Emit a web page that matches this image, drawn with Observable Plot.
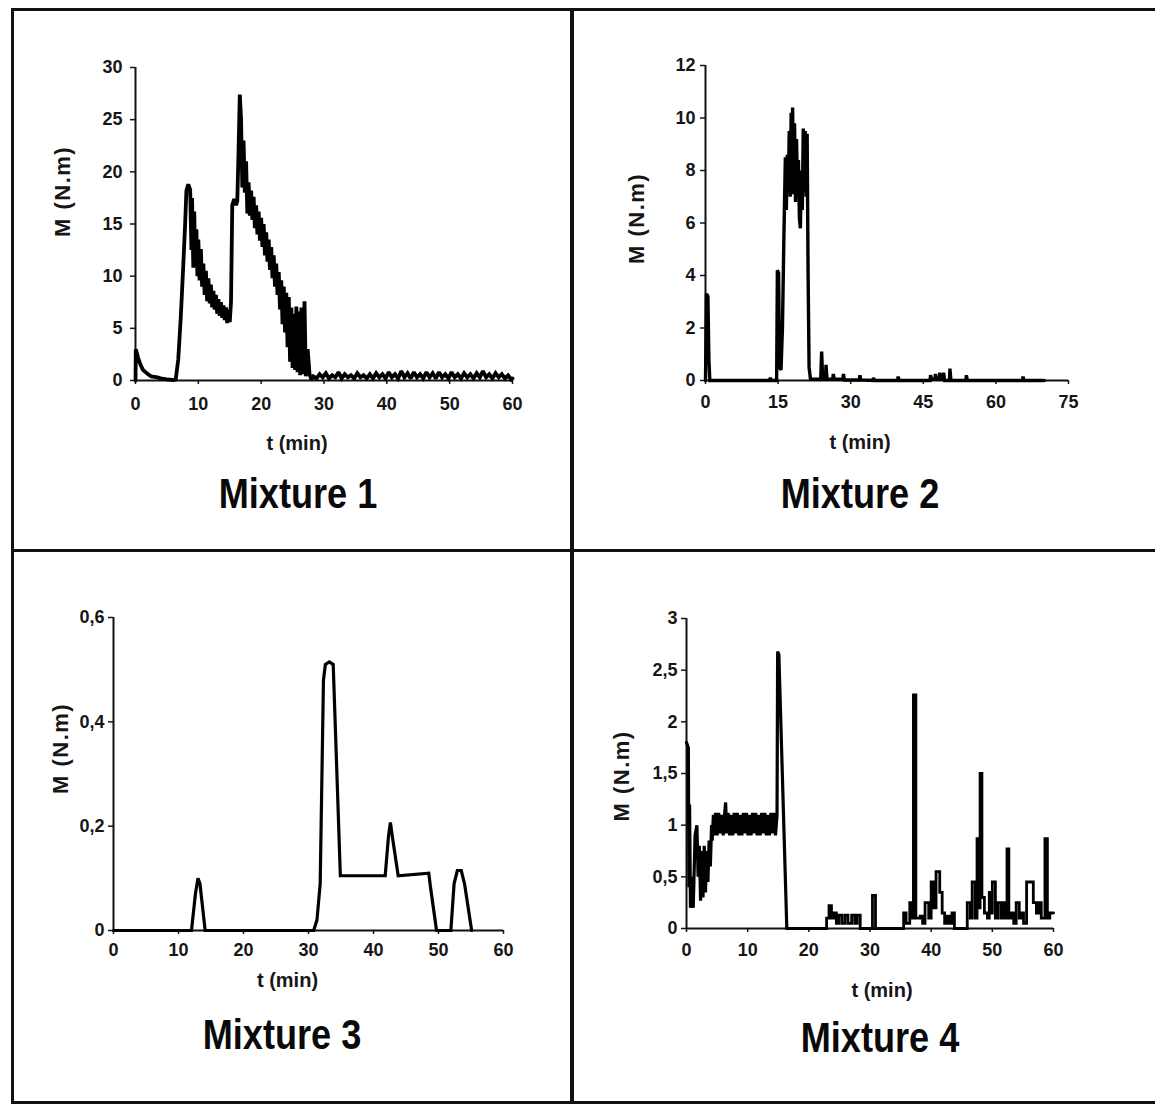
<!DOCTYPE html>
<html>
<head>
<meta charset="utf-8">
<script src="https://cdn.jsdelivr.net/npm/d3@7"></script>
<script src="https://cdn.jsdelivr.net/npm/@observablehq/plot@0.6"></script>
<style>
  html, body { margin: 0; padding: 0; background: #fff; }
  #page { position: relative; width: 1155px; height: 1104px; background: #fff; overflow: hidden; }
  .line { position: absolute; background: #111; }
  .chart { position: absolute; }
  .title { position: absolute; width: 400px; text-align: center; font-family: "Liberation Sans", Arial, sans-serif;
           font-weight: bold; font-size: 42px; line-height: 42px; color: #0a0a0a; transform: scaleX(0.86); transform-origin: center; }
</style>
</head>
<body>
<div id="page"></div>
<script>
// ---------- data (t in min, M in N.m) ----------
const titles = ["Mixture 1", "Mixture 2", "Mixture 3", "Mixture 4"];
const xLabel = "t (min)";
const yLabel = "M (N.m)";

const xTicks1 = [0, 10, 20, 30, 40, 50, 60];
const yTicks1 = [0, 5, 10, 15, 20, 25, 30];
const xTicks2 = [0, 15, 30, 45, 60, 75];
const yTicks2 = [0, 2, 4, 6, 8, 10, 12];
const xTicks3 = [0, 10, 20, 30, 40, 50, 60];
const yTicks3 = [0, 0.2, 0.4, 0.6];
const xTicks4 = [0, 10, 20, 30, 40, 50, 60];
const yTicks4 = [0, 0.5, 1, 1.5, 2, 2.5, 3];

const mixture1 = [
  [0,0],[0.05,3.0],[0.4,2.2],[0.8,1.5],[1.2,1.0],[1.6,0.8],[2,0.6],[2.5,0.4],[3,0.35],[3.5,0.3],[4,0.2],[5,0.1],[6,0.05],[6.4,0.1],
  [6.8,2],[7.2,6],[7.6,11],[7.9,15],[8.1,18.2],[8.4,18.8],[8.7,18.3],[8.9,12.5],[9.0,17.5],[9.2,10.8],[9.35,16.2],[9.5,11],
  [9.7,14.5],[9.85,10],[10,13.5],[10.2,9.6],[10.4,12.6],[10.6,9],[10.8,11.2],[11,8.2],[11.2,10.5],[11.4,7.6],[11.6,9.8],[11.8,7.4],
  [12,9.2],[12.2,7],[12.4,8.6],[12.6,6.8],[12.8,8.2],[13,6.4],[13.2,7.8],[13.4,6.2],[13.6,7.5],[13.8,6],[14,7.2],[14.2,5.8],
  [14.4,7],[14.6,5.5],[14.8,6.8],[15,5.6],[15.2,7.5],[15.4,16.8],[15.7,17.4],[16,16.8],[16.2,17.2],[16.4,22],[16.6,27.4],[16.8,25],
  [17,18.5],[17.2,23],[17.4,18],[17.6,21],[17.8,16],[18,19],[18.2,15.8],[18.4,18.2],[18.6,15.4],[18.8,17.6],[19,14.6],[19.2,16.8],
  [19.4,14],[19.6,16.2],[19.8,13.4],[20,15.6],[20.2,12.8],[20.4,15],[20.6,12],[20.8,14.2],[21,11.4],[21.2,13.5],[21.4,10.6],
  [21.6,12.8],[21.8,9.8],[22,12],[22.2,9],[22.4,11.2],[22.6,8.2],[22.8,10.4],[23,6.8],[23.2,9.6],[23.4,5.4],[23.6,9],[23.8,4.6],
  [24,8.4],[24.2,3.2],[24.4,8],[24.6,1.8],[24.8,7],[25,1.2],[25.2,6.4],[25.4,1],[25.6,7.1],[25.8,0.8],[26,6.6],[26.2,0.5],
  [26.4,7.0],[26.6,0.6],[26.9,7.6],[27.1,0.4],[27.4,3],[27.7,0.6],[28,0.1],[28.3,0.4],
  [28.8,0.2],[29.3,0.6],[29.8,0.3],[30.3,0.7],[30.8,0.2],[31.3,0.5],[31.8,0.3],[32.3,0.8],[32.8,0.2],[33.3,0.6],[33.8,0.3],
  [34.3,0.5],[34.8,0.2],[35.3,0.7],[35.8,0.3],[36.3,0.5],[36.8,0.2],[37.3,0.6],[37.8,0.2],[38.3,0.7],[38.8,0.3],[39.3,0.6],
  [39.8,0.2],[40.3,0.8],[40.8,0.3],[41.3,0.6],[41.8,0.2],[42.3,0.9],[42.8,0.3],[43.3,0.7],[43.8,0.2],[44.3,0.8],[44.8,0.3],
  [45.3,0.6],[45.8,0.2],[46.3,0.8],[46.8,0.3],[47.3,0.7],[47.8,0.2],[48.3,0.8],[48.8,0.3],[49.3,0.6],[49.8,0.2],[50.3,0.8],
  [50.8,0.3],[51.3,0.6],[51.8,0.2],[52.3,0.7],[52.8,0.3],[53.3,0.6],[53.8,0.2],[54.3,0.7],[54.8,0.3],[55.3,0.9],[55.8,0.3],
  [56.3,0.6],[56.8,0.2],[57.3,0.7],[57.8,0.3],[58.3,0.6],[58.8,0.2],[59.3,0.5],[59.8,0.1],[60,0.2]
];

const mixture2 = [
  [0,0],[0.2,3.3],[0.5,3.2],[0.7,0.8],[0.9,0],[13.2,0],[13.4,0.1],[13.6,0],[14.7,0],[14.85,4.2],[15.1,4.1],[15.3,0.5],[15.6,0.4],
  [15.9,2],[16.2,5.5],[16.5,8.5],[16.7,6.5],[16.9,8.6],[17.1,7.2],[17.3,9.5],[17.5,7],[17.7,10.2],[17.9,7.6],[18.0,10.4],
  [18.2,7.1],[18.4,9.8],[18.6,6.8],[18.8,9.2],[19.0,7.4],[19.2,8.4],[19.4,6.2],[19.6,5.8],[19.8,8],[20,6.5],[20.2,9.6],
  [20.4,7.2],[20.6,9.5],[20.8,7],[21,9.4],[21.2,4],[21.4,0.5],[21.7,0.05],[23.8,0.05],[24,1.1],[24.2,0.05],[24.8,0.05],
  [24.9,0.6],[25.1,0.05],[26.3,0.05],[26.4,0.25],[26.6,0.05],[28.4,0.05],[28.5,0.25],[28.7,0.02],[31.8,0.02],[31.9,0.2],
  [32.1,0.02],[34.6,0],[34.7,0.1],[34.9,0],[39.7,0],[39.8,0.15],[40,0],[46.4,0],[46.5,0.2],[46.7,0.05],[47.4,0.05],
  [47.5,0.25],[47.7,0.05],[48.3,0.05],[48.4,0.3],[48.6,0.05],[49.1,0.05],[49.2,0.3],[49.4,0],[50.4,0],[50.5,0.45],[50.7,0],
  [53.8,0],[53.9,0.2],[54.1,0],[65.5,0],[65.6,0.15],[65.8,0],[70,0]
];

const mixture3 = [
  [0,0],[12,0],[12.6,0.07],[13.0,0.1],[13.3,0.09],[14.1,0],[30.8,0],[31.3,0.02],[31.8,0.09],[32.3,0.48],[32.6,0.51],
  [33.2,0.515],[33.8,0.51],[34.1,0.4],[34.9,0.105],[41.8,0.105],[42.3,0.18],[42.6,0.207],[42.9,0.18],[43.8,0.105],
  [48.5,0.11],[48.8,0.08],[49.7,0],[51.9,0],[52.4,0.09],[52.9,0.115],[53.5,0.115],[54,0.09],[55.1,0]
];

// mixture 4: start-up phase (continuous trace)
const mixture4Start = [
  [0,1.8],[0.3,1.75],[0.4,0.4],[0.5,1.2],[0.65,0.2],[0.9,0.5],[1.1,0.2],[1.4,0.9],[1.7,1.0],[1.9,0.5],[2.1,0.8],[2.3,0.27],
  [2.5,0.75],[2.7,0.3],[2.9,0.8],[3.1,0.35],[3.3,0.75],[3.5,0.45],[3.7,0.85],[3.9,0.6],[4.1,1.0],[4.2,0.85],[4.4,1.1],
  [4.5,0.9],[4.75,1.12],[5,0.9],[5.25,1.12],[5.5,0.92],[5.75,1.1],[6,0.9],[6.25,1.12],[6.4,1.22],[6.55,0.92],[6.8,1.12],
  [7.05,0.9],[7.3,1.1],[7.55,0.9],[7.8,1.12],[8.05,0.92],[8.3,1.12],[8.55,0.9],[8.8,1.1],[9.05,0.9],[9.3,1.12],[9.55,0.92],
  [9.8,1.12],[10.05,0.9],[10.3,1.1],[10.55,0.9],[10.8,1.12],[11.05,0.92],[11.3,1.12],[11.55,0.9],[11.8,1.1],[12.05,0.9],
  [12.3,1.12],[12.55,0.92],[12.8,1.12],[13.05,0.9],[13.3,1.1],[13.55,0.9],[13.8,1.12],[14.05,0.92],[14.3,1.12],[14.55,0.9],
  [14.8,1.1],[14.9,2.68],[15.1,2.65],[16.4,0]
];
// mixture 4: later spikes (stepped trace, value held until next time)
const mixture4Spikes = [
  [16.4,0],[22.9,0.1],[23.3,0.22],[23.7,0.1],[24.1,0.15],[24.5,0.05],[24.9,0.13],[25.4,0.05],[25.9,0.13],[26.4,0.05],
  [27,0.13],[27.5,0.05],[27.9,0.13],[28.4,0],[30.4,0.32],[30.9,0],[35.5,0.15],[35.9,0.05],[36.5,0.25],[36.9,0.1],
  [37.1,2.26],[37.5,0.1],[38.2,0.12],[38.6,0.05],[39.0,0.25],[39.6,0.1],[40.0,0.45],[40.4,0.2],[40.8,0.55],[41.4,0.35],
  [41.8,0.15],[42.2,0.05],[42.6,0.12],[43.0,0.05],[43.4,0.15],[43.8,0],[45.9,0.25],[46.4,0.1],[46.7,0.45],[47.2,0.1],
  [47.5,0.87],[47.9,0.2],[48.0,1.5],[48.3,0.3],[48.7,0.15],[49.2,0.1],[49.5,0.35],[49.9,0.15],[50.0,0.45],[50.5,0.1],
  [50.9,0.25],[51.4,0.1],[51.8,0.25],[52.2,0.1],[52.4,0.77],[52.7,0.1],[53.1,0.15],[53.5,0.05],[53.9,0.25],[54.4,0.1],
  [54.7,0.15],[55.1,0.05],[55.6,0.45],[56.7,0.25],[57.2,0.15],[57.6,0.25],[58.0,0.1],[58.6,0.87],[59.0,0.1],[59.4,0.15],
  [60,0.15]
];

// ---------- layout ----------
const page = document.getElementById("page");
function addLine(l, t, w, h) {
  const d = document.createElement("div");
  d.className = "line";
  Object.assign(d.style, {left: l + "px", top: t + "px", width: w + "px", height: h + "px"});
  page.appendChild(d);
}
addLine(11, 8, 1144, 3);      // top
addLine(11, 8, 3, 1096);      // left
addLine(570, 8, 4, 1096);     // middle vertical
addLine(11, 549, 1144, 3);    // middle horizontal
addLine(11, 1101, 1144, 3);   // bottom

const comma = d => String(d).replace(".", ",");
const X = d => d[0], Y = d => d[1];

const panels = [
  {series: [{data: mixture1, curve: "linear", w: 3.8}], xd: [0, 60], yd: [0, 30], xt: xTicks1, yt: yTicks1,
   left: 20, top: 40, width: 530, height: 420, mL: 115, mR: 38, mT: 27, mB: 80, xPad: 13, yPad: 8,
   xl: [-27, 69], yl: [-73, 13], title: [298, 473]},
  {series: [{data: mixture2, curve: "linear", w: 3.4}], xd: [0, 75], yd: [0, 12], xt: xTicks2, yt: yTicks2,
   left: 590, top: 40, width: 550, height: 420, mL: 115, mR: 72, mT: 25, mB: 80, xPad: 11, yPad: 5,
   xl: [-27, 68], yl: [-69, 41], title: [860, 473]},
  {series: [{data: mixture3, curve: "linear", w: 3.2}], xd: [0, 60], yd: [0, 0.6], xt: xTicks3, yt: yTicks3,
   left: 20, top: 590, width: 530, height: 420, mL: 93, mR: 47, mT: 27, mB: 80, xPad: 9, yPad: 4,
   xl: [-21, 56], yl: [-53, 20], title: [282, 1014]},
  {series: [{data: mixture4Start, curve: "linear", w: 3.2}, {data: mixture4Spikes, curve: "step-after", w: 2.8}],
   xd: [0, 60], yd: [0, 3], xt: xTicks4, yt: yTicks4,
   left: 590, top: 590, width: 540, height: 420, mL: 96, mR: 77, mT: 28, mB: 82, xPad: 11, yPad: 4,
   xl: [12, 68], yl: [-65, 48], title: [880, 1017]}
];

panels.forEach((p, i) => {
  const chart = Plot.plot({
    width: p.width,
    height: p.height,
    marginLeft: p.mL, marginRight: p.mR, marginTop: p.mT, marginBottom: p.mB,
    style: {fontFamily: "'Liberation Sans', Arial, sans-serif", fontSize: "18px", fontWeight: "bold",
            color: "#161616", background: "transparent", overflow: "visible"},
    x: {domain: p.xd},
    y: {domain: p.yd},
    marks: [
      Plot.axisX({ticks: p.xt, tickSize: 4, tickPadding: p.xPad, label: null, strokeWidth: 1.5, tickFormat: comma}),
      Plot.axisY({ticks: p.yt, tickSize: 5, tickPadding: p.yPad, label: null, strokeWidth: 1.5, tickFormat: comma}),
      Plot.ruleX([p.xd[0]], {stroke: "#111", strokeWidth: 2}),
      Plot.ruleY([p.yd[0]], {stroke: "#111", strokeWidth: 2}),
      ...p.series.map(s => Plot.line(s.data, {x: X, y: Y, curve: s.curve, stroke: "#000", strokeWidth: s.w,
                                               strokeLinejoin: "miter", strokeMiterlimit: 2})),
      Plot.text([xLabel], {text: d => d, frameAnchor: "bottom", dx: p.xl[0], dy: p.xl[1], fontSize: 20, fontWeight: "bold", fill: "#161616"}),
      Plot.text([yLabel], {text: d => d, frameAnchor: "left", rotate: -90, dx: p.yl[0], dy: p.yl[1], fontSize: 22, fontWeight: "bold", fill: "#161616"})
    ]
  });
  // widen the rotated axis title's letter spacing like the original
  chart.querySelectorAll("text").forEach(el => {
    if (el.textContent === yLabel) el.style.letterSpacing = "1.5px";
  });
  const wrap = document.createElement("div");
  wrap.className = "chart";
  wrap.style.left = p.left + "px";
  wrap.style.top = p.top + "px";
  wrap.appendChild(chart);
  page.appendChild(wrap);

  const t = document.createElement("div");
  t.className = "title";
  t.textContent = titles[i];
  t.style.left = (p.title[0] - 200) + "px";
  t.style.top = p.title[1] + "px";
  page.appendChild(t);
});
</script>
</body>
</html>
